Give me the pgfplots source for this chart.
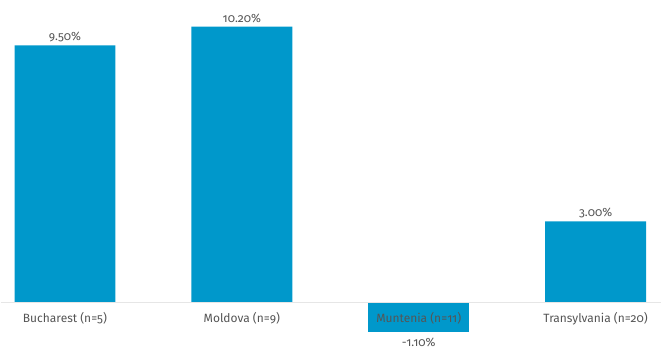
\documentclass[border=0pt]{standalone}
\usepackage{pgfplots}
\pgfplotsset{compat=1.18}
\usepackage{fontspec}
\setmainfont{Fira Sans}[Numbers=OldStyle]
\definecolor{barblue}{HTML}{0098CB}
\definecolor{txtgray}{HTML}{555555}
\definecolor{basegray}{HTML}{E6E6E6}
\begin{document}
\begin{tikzpicture}
\begin{axis}[
  ybar,
  bar shift=0pt,
  scale only axis,
  width=662pt, height=354pt,
  xmin=-0.364, xmax=3.372,
  ymin=-1.88, ymax=11.18,
  axis x line=middle,
  axis y line=none,
  axis line style={basegray, line width=1.2pt, -},
  axis on top=true,
  xtick={0,1,2,3},
  xticklabels={Bucharest (n=5), Moldova (n=9), Muntenia (n=11), Transylvania (n=20)},
  xtick style={draw=none},
  xticklabel style={font=\fontsize{12}{14}\selectfont, text=txtgray, yshift=-4pt},
  ytick=\empty,
  point meta=explicit symbolic,
  nodes near coords,
  nodes near coords style={font=\fontsize{12}{13}\selectfont, text=txtgray},
  clip=false,
]
\path (rel axis cs:0,0) rectangle (rel axis cs:1,1);
\addplot[ybar, bar width=101pt, fill=barblue, draw=none] coordinates {
  (0,9.5) [9.50\%]
  (1,10.2) [10.20\%]
  (3,3.0) [3.00\%]
};
\addplot[ybar, bar width=101pt, fill=barblue, draw=none,
  nodes near coords style={anchor=north, yshift=-2pt}] coordinates {
  (2,-1.1) [-1.10\%]
};
\end{axis}
\end{tikzpicture}
\end{document}
